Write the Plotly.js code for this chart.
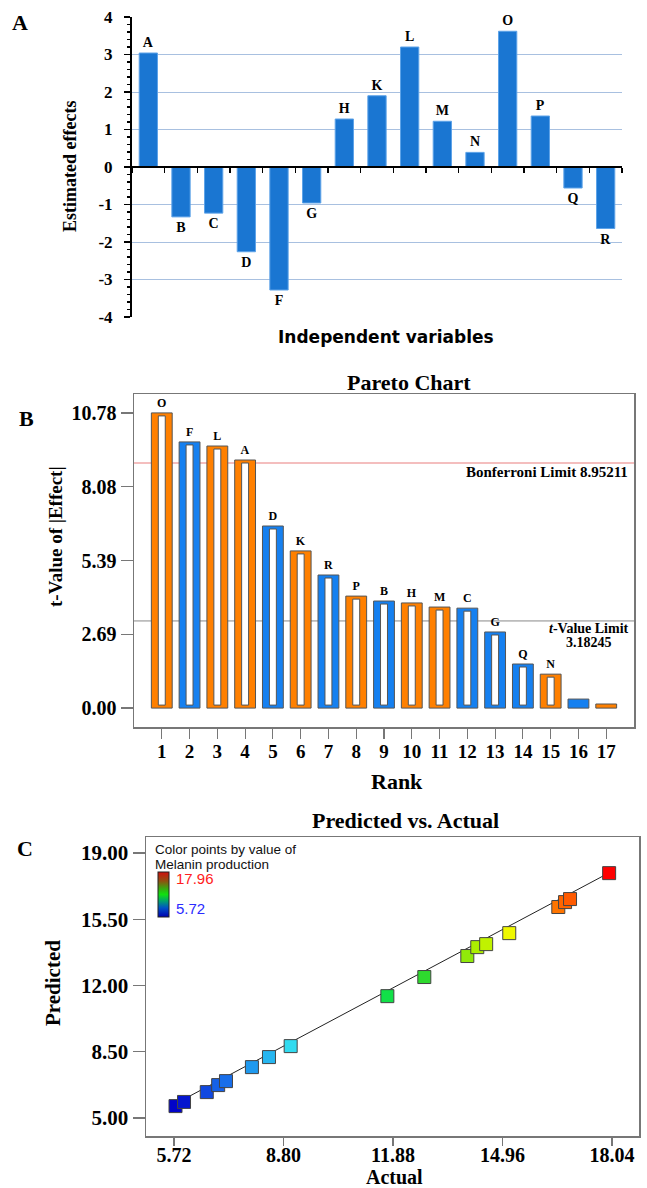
<!DOCTYPE html>
<html><head><meta charset="utf-8">
<script src="https://cdn.plot.ly/plotly-3.0.1.min.js"></script>
<style>html,body{margin:0;padding:0;background:#fff}#chart{width:647px;height:1188px}</style>
</head><body><div id="chart"></div>
<script>
// ---------- Panel A data ----------
const effectVars = ['A','B','C','D','F','G','H','K','L','M','N','O','P','Q','R'];
const effectValues = [3.04,-1.33,-1.23,-2.26,-3.28,-0.96,1.28,1.90,3.20,1.22,0.39,3.62,1.36,-0.56,-1.64];
const effectTicks = [-4,-3,-2,-1,0,1,2,3,4];
// ---------- Panel B data ----------
const paretoRanks = [1,2,3,4,5,6,7,8,9,10,11,12,13,14,15,16,17];
const paretoLabels = ['O','F','L','A','D','K','R','P','B','H','M','C','G','Q','N','',''];
const paretoTValues = [10.78,9.72,9.57,9.06,6.65,5.74,4.86,4.09,3.91,3.84,3.69,3.65,2.78,1.61,1.24,0.33,0.15];
const paretoSigns = [1,-1,1,1,-1,1,-1,1,-1,1,1,-1,-1,-1,1,-1,1];
const paretoTickVals = [0,2.69,5.39,8.08,10.78];
const paretoTickText = ['0.00','2.69','5.39','8.08','10.78'];
const bonferroniLimit = 8.95211;
const tValueLimit = 3.18245;
// ---------- Panel C data ----------
const actualVals = [5.76,6.00,6.64,6.96,7.18,7.91,8.39,9.00,11.72,12.76,13.97,14.25,14.50,15.15,16.53,16.72,16.86,17.96];
const predictedVals = [5.63,5.85,6.37,6.74,6.95,7.69,8.22,8.80,11.44,12.45,13.56,14.03,14.19,14.77,16.15,16.41,16.57,17.94];
const melaninMin = 5.72, melaninMax = 17.96;
const pvaTicksX = [5.72,8.80,11.88,14.96,18.04];
const pvaTickTextX = ['5.72','8.80','11.88','14.96','18.04'];
const pvaTicksY = [5,8.5,12,15.5,19];
const pvaTickTextY = ['5.00','8.50','12.00','15.50','19.00'];
const fitLineX = [5.72,18.04];

// ---------- helpers ----------
const W = 647, H = 1188;
const px = v => v / W;
const py = v => 1 - v / H;
const SERIF = 'Liberation Serif, Times New Roman, serif';
const SANS = 'Liberation Sans, Arial, sans-serif';
const ORANGE = '#ff8000', BLUE = '#1580f0';

// Panel A geometry
const aDom = [py(317), py(17)];
const aRange = [-4, 4];
const aZeroPos = aDom[0] + (0 - aRange[0]) / (aRange[1] - aRange[0]) * (aDom[1] - aDom[0]);

const traces = [];
traces.push({
  type: 'bar', x: effectVars, y: effectValues, xaxis: 'x', yaxis: 'y',
  width: 0.56,
  marker: {color: '#1a76d2', line: {color: '#5ea3e8', width: 1}},
  text: effectVars, textposition: 'outside', constraintext: 'none', cliponaxis: false,
  textfont: {family: SERIF, size: 14, color: '#000', weight: 'bold'},
  hoverinfo: 'x+y'
});

// Panel B
traces.push({
  type: 'bar', x: paretoRanks, y: paretoTValues, xaxis: 'x2', yaxis: 'y2',
  width: 0.75,
  marker: {color: paretoSigns.map(s => s > 0 ? ORANGE : BLUE), line: {color: '#555', width: 1}},
  text: paretoLabels, textposition: 'outside', constraintext: 'none', cliponaxis: false,
  textfont: {family: SERIF, size: 12, color: '#000', weight: 'bold'},
  hoverinfo: 'x+y'
});
traces.push({
  type: 'bar', x: paretoRanks,
  y: paretoTValues.map((v, i) => paretoLabels[i] ? v - 0.22 : null),
  base: 0.11, xaxis: 'x2', yaxis: 'y2', width: 0.25,
  marker: {color: '#ffffff', line: {color: '#555', width: 1}},
  hoverinfo: 'skip'
});

// Panel C
traces.push({
  type: 'scatter', mode: 'lines', x: fitLineX, y: fitLineX, xaxis: 'x3', yaxis: 'y3',
  line: {color: '#222', width: 1}, hoverinfo: 'skip'
});
traces.push({
  type: 'scatter', mode: 'markers', x: actualVals, y: predictedVals, xaxis: 'x3', yaxis: 'y3',
  marker: {
    symbol: 'square', size: 13,
    color: actualVals, cmin: melaninMin, cmax: melaninMax,
    colorscale: [[0,'#0000c8'],[0.1,'#1560e8'],[0.2,'#22a8f0'],[0.28,'#34e4f0'],[0.5,'#10e040'],[0.6,'#38d828'],[0.7,'#b0f000'],[0.78,'#f8f800'],[0.88,'#ff7800'],[1,'#ff0000']],
    line: {color: '#444', width: 1},
    showscale: false
  },
  hoverinfo: 'x+y'
});
// legend colour key (invisible points, only its colour bar is shown)
traces.push({
  type: 'scatter', mode: 'markers', x: actualVals, y: predictedVals, xaxis: 'x3', yaxis: 'y3',
  marker: {
    opacity: 0, size: 1,
    color: actualVals, cmin: melaninMin, cmax: melaninMax,
    colorscale: [[0,'#0000b0'],[0.2,'#0050c8'],[0.35,'#00a070'],[0.5,'#10e010'],[0.65,'#40a010'],[0.8,'#905010'],[1,'#d01010']],
    showscale: true,
    colorbar: {
      x: px(158), xanchor: 'left', y: py(872), yanchor: 'top',
      lenmode: 'pixels', len: 45, thicknessmode: 'pixels', thickness: 11,
      xpad: 0, ypad: 0, outlinewidth: 1, outlinecolor: '#222',
      showticklabels: false, ticks: ''
    }
  },
  hoverinfo: 'skip'
});

const boldSerif = (size) => ({family: SERIF, size: size, color: '#000', weight: 'bold'});

const layout = {
  width: W, height: H,
  margin: {l: 0, r: 0, t: 0, b: 0},
  paper_bgcolor: '#fff', plot_bgcolor: '#fff',
  showlegend: false, barmode: 'overlay', bargap: 0,
  // Panel A axes
  xaxis: {
    domain: [px(132), px(622)], anchor: 'free', position: aZeroPos,
    type: 'category', categoryorder: 'array', categoryarray: effectVars,
    range: [-0.5, effectVars.length - 0.5],
    showline: true, linecolor: '#000', linewidth: 2,
    ticks: 'outside', tickson: 'boundaries', ticklen: 5, tickcolor: '#000', tickwidth: 1.5,
    showticklabels: false, showgrid: false, zeroline: false, fixedrange: true
  },
  yaxis: {
    domain: aDom, anchor: 'x', range: aRange,
    tickvals: effectTicks, ticktext: effectTicks.map(String),
    tickfont: boldSerif(17), ticklabelstandoff: 8,
    showline: true, linecolor: '#000', linewidth: 2,
    ticks: 'outside', ticklen: 6, tickcolor: '#000', tickwidth: 1.5,
    minor: {ticks: 'outside', dtick: 0.2, ticklen: 3, tickcolor: '#000', showgrid: false},
    showgrid: true, gridcolor: '#a8c0e0', gridwidth: 1, zeroline: false,
    position: px(132)
  },
  // Panel B axes
  xaxis2: {
    domain: [px(134), px(634)], anchor: 'y2', range: [0, 18],
    tickvals: paretoRanks, ticktext: paretoRanks.map(String),
    tickfont: boldSerif(19), ticklabelstandoff: -3,
    showline: true, mirror: true, linecolor: '#777', linewidth: 1.5,
    ticks: 'outside', ticklen: 10, tickcolor: '#777', tickwidth: 1.2,
    showgrid: false, zeroline: false
  },
  yaxis2: {
    domain: [py(727), py(394)], anchor: 'x2', range: [-0.69, 11.47],
    tickvals: paretoTickVals, ticktext: paretoTickText,
    tickfont: boldSerif(20),
    showline: true, mirror: true, linecolor: '#777', linewidth: 1.5,
    ticks: 'outside', ticklen: 12, tickcolor: '#777', tickwidth: 1.2,
    showgrid: false, zeroline: false
  },
  // Panel C axes
  xaxis3: {
    domain: [px(146), px(639)], anchor: 'y3', range: [4.93, 18.80],
    tickvals: pvaTicksX, ticktext: pvaTickTextX,
    tickfont: boldSerif(20), ticklabelstandoff: -8,
    showline: true, mirror: true, linecolor: '#777', linewidth: 1.5,
    ticks: 'outside', ticklen: 8, tickcolor: '#777', tickwidth: 1.2,
    showgrid: false, zeroline: false
  },
  yaxis3: {
    domain: [py(1136), py(837)], anchor: 'x3', range: [4.05, 19.85],
    tickvals: pvaTicksY, ticktext: pvaTickTextY,
    tickfont: boldSerif(21),
    showline: true, mirror: true, linecolor: '#777', linewidth: 1.5,
    ticks: 'outside', ticklen: 12, tickcolor: '#777', tickwidth: 1.2,
    showgrid: false, zeroline: false
  },
  shapes: [
    {type: 'line', xref: 'x2 domain', yref: 'y2', x0: 0, x1: 1, y0: bonferroniLimit, y1: bonferroniLimit,
     line: {color: '#f0a8a8', width: 1.5}, layer: 'below'},
    {type: 'line', xref: 'x2 domain', yref: 'y2', x0: 0, x1: 1, y0: tValueLimit, y1: tValueLimit,
     line: {color: '#888', width: 1}, layer: 'below'}
  ],
  annotations: [
    // panel letters
    {text: 'A', x: px(20), y: py(23), font: boldSerif(22)},
    {text: 'B', x: px(26), y: py(418), font: boldSerif(22)},
    {text: 'C', x: px(25), y: py(848), font: boldSerif(22)},
    // panel A titles
    {text: 'Estimated effects', x: px(70), y: py(167), textangle: -90, font: boldSerif(18)},
    {text: 'Independent variables', x: px(386), y: py(337), font: {family: 'DejaVu Sans, Verdana, sans-serif', size: 17, color: '#000', weight: 'bold'}},
    // panel B titles
    {text: 'Pareto Chart', x: px(409), y: py(382), font: boldSerif(22)},
    {text: 't-Value of |Effect|', x: px(55), y: py(537), textangle: -90, font: boldSerif(19)},
    {text: 'Rank', x: px(397), y: py(781), font: boldSerif(22)},
    {text: 'Bonferroni Limit 8.95211', x: px(630), xanchor: 'right', y: py(472), font: boldSerif(15)},
    {text: '<i>t</i>-Value Limit', x: px(589), y: py(629), font: boldSerif(14)},
    {text: '3.18245', x: px(589), y: py(643), font: boldSerif(14)},
    // panel C titles
    {text: 'Predicted vs. Actual', x: px(405), y: py(820), font: boldSerif(22)},
    {text: 'Predicted', x: px(53), y: py(983), textangle: -90, font: boldSerif(21)},
    {text: 'Actual', x: px(394), y: py(1177), font: boldSerif(20)},
    {text: 'Color points by value of', x: px(153), xanchor: 'left', y: py(849), font: {family: SANS, size: 13.5, color: '#111'}},
    {text: 'Melanin production', x: px(153), xanchor: 'left', y: py(864), font: {family: SANS, size: 13.5, color: '#111'}},
    {text: melaninMax.toFixed(2), x: px(174), xanchor: 'left', y: py(878), font: {family: SANS, size: 15, color: '#ff2020'}},
    {text: melaninMin.toFixed(2), x: px(174), xanchor: 'left', y: py(908), font: {family: SANS, size: 15, color: '#2b2bff'}}
  ].map(a => Object.assign({xref: 'paper', yref: 'paper', showarrow: false, xanchor: 'center', yanchor: 'middle'}, a))
};

Plotly.newPlot('chart', traces, layout, {displayModeBar: false, staticPlot: true});
</script>
</body></html>
